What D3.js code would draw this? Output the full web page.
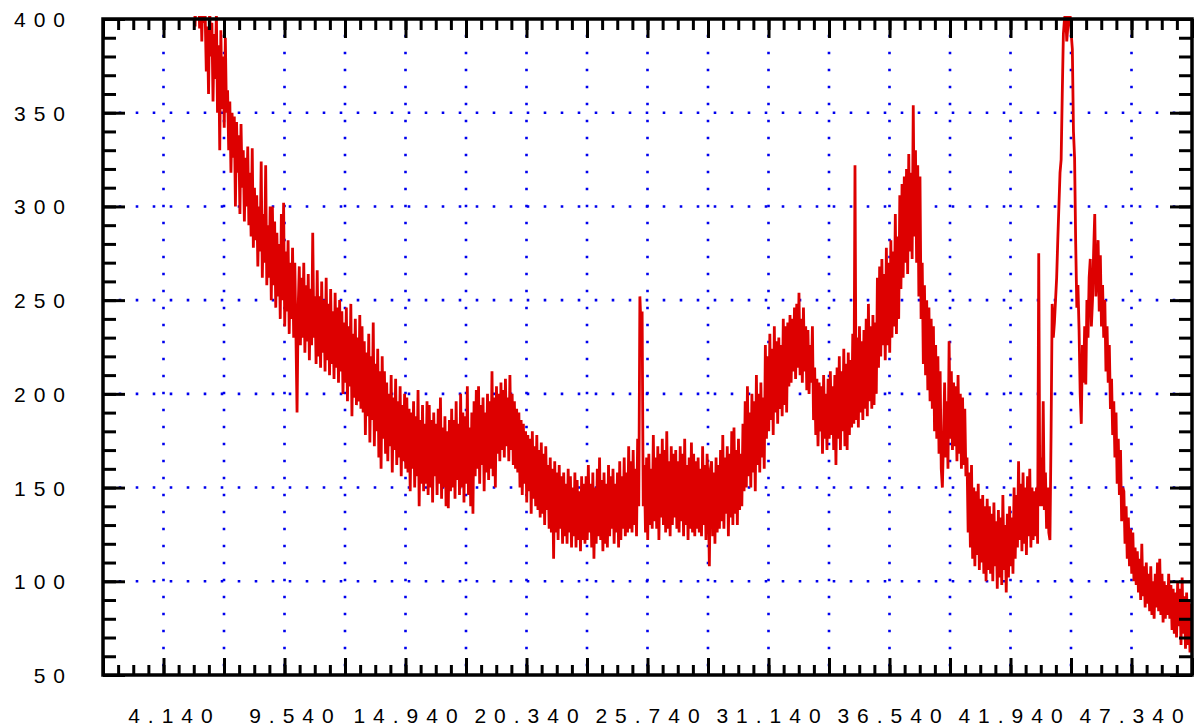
<!DOCTYPE html>
<html>
<head>
<meta charset="utf-8">
<script src="https://cdn.jsdelivr.net/npm/d3@7"></script>
<style>
  html, body { margin: 0; padding: 0; background: #fff; }
  svg { display: block; }
  .lbl { font-family: "Liberation Sans", Arial, sans-serif; font-size: 21px; fill: #000; letter-spacing: 8px; white-space: pre; }
</style>
</head>
<body>
<svg id="chart" width="1194" height="727"></svg>
<script>
// Scan settings (2-theta, degrees)
const twoThetaStart = 5.5;
const twoThetaStep = 0.05;

// Measured counts, one per scan step (one row per degree from 6 on)
const intensity = [
  430, 396, 418, 402, 425, 395, 415, 388, 420, 398,
  402, 372, 396, 360, 408, 380, 398, 356, 392, 368, 404, 350, 386, 330, 394, 352, 380, 342, 390, 350,
  362, 330, 356, 318, 350, 326, 348, 300, 345, 318, 338, 296, 344, 310, 330, 292, 326, 300, 332, 290,
  318, 284, 331, 278, 310, 282, 306, 268, 300, 276, 324, 262, 296, 270, 322, 258, 290, 262, 300, 250,
  300, 258, 292, 246, 286, 252, 280, 240, 296, 250, 302, 236, 276, 244, 282, 232, 270, 240, 278, 230,
  270, 232, 190, 246, 268, 226, 262, 230, 270, 222, 258, 228, 264, 218, 256, 226, 286, 230, 252, 216,
  266, 220, 252, 214, 260, 222, 250, 212, 262, 218, 248, 210, 256, 216, 244, 208, 254, 214, 246, 206,
  250, 212, 244, 200, 238, 206, 246, 196, 236, 204, 248, 188, 232, 198, 240, 194, 230, 196, 242, 192,
  236, 190, 228, 178, 222, 188, 232, 174, 220, 186, 238, 172, 216, 180, 224, 166, 212, 160, 220, 176,
  212, 168, 206, 164, 200, 172, 210, 158, 198, 170, 208, 162, 196, 166, 204, 156, 194, 164, 200, 160,
  198, 158, 192, 148, 190, 160, 196, 150, 188, 156, 202, 140, 186, 152, 194, 148, 184, 152, 196, 146,
  194, 150, 186, 142, 190, 156, 184, 146, 192, 152, 198, 144, 182, 150, 188, 140, 180, 139, 186, 148,
  192, 150, 186, 144, 196, 154, 184, 146, 200, 150, 190, 142, 188, 152, 204, 146, 182, 140, 190, 136,
  196, 156, 202, 160, 204, 152, 194, 162, 198, 148, 190, 158, 200, 154, 196, 160, 212, 156, 198, 150,
  204, 168, 200, 164, 206, 170, 202, 166, 208, 172, 198, 164, 210, 170, 200, 162, 196, 160, 192, 158,
  190, 150, 186, 146, 184, 152, 180, 142, 178, 148, 176, 136, 180, 144, 172, 140, 178, 138, 170, 134,
  174, 136, 168, 130, 172, 138, 162, 128, 166, 126, 160, 112, 164, 126, 158, 122, 162, 128, 156, 120,
  158, 124, 152, 120, 160, 126, 156, 118, 150, 124, 158, 118, 154, 122, 148, 116, 156, 122, 152, 120,
  156, 122, 162, 126, 152, 118, 158, 112, 150, 120, 160, 124, 166, 122, 154, 116, 158, 120, 152, 118,
  162, 124, 156, 128, 160, 120, 152, 126, 158, 118, 164, 122, 156, 128, 166, 124, 158, 126, 172, 128,
  164, 126, 170, 130, 160, 124, 176, 140, 252, 236, 244, 140, 162, 126, 166, 122, 168, 130, 160, 128,
  178, 132, 166, 128, 172, 122, 168, 134, 176, 130, 170, 126, 180, 128, 164, 124, 172, 130, 168, 134,
  170, 128, 164, 126, 172, 132, 168, 124, 176, 130, 162, 122, 166, 128, 174, 126, 168, 124, 164, 128,
  166, 126, 160, 124, 172, 130, 162, 122, 168, 150, 108, 160, 164, 124, 158, 120, 166, 126, 162, 128,
  170, 132, 178, 128, 166, 136, 172, 124, 168, 134, 180, 130, 182, 136, 170, 130, 176, 138, 168, 140,
  184, 148, 196, 150, 204, 156, 190, 150, 200, 158, 196, 148, 210, 162, 200, 158, 206, 166, 198, 160,
  226, 176, 220, 180, 232, 186, 224, 178, 236, 190, 228, 184, 230, 192, 226, 188, 240, 194, 236, 190,
  238, 204, 242, 206, 240, 212, 246, 208, 248, 214, 254, 210, 240, 206, 246, 212, 236, 202, 234, 200,
  226, 206, 236, 186, 214, 178, 208, 172, 206, 180, 204, 168, 210, 176, 200, 170, 208, 176, 212, 178,
  204, 170, 210, 162, 214, 176, 220, 170, 212, 180, 224, 172, 216, 170, 222, 178, 218, 182, 232, 184,
  322, 186, 230, 182, 236, 190, 228, 186, 234, 192, 240, 188, 248, 196, 236, 192, 242, 194, 238, 200,
  262, 214, 268, 220, 272, 226, 264, 218, 278, 226, 270, 222, 282, 230, 276, 236, 296, 232, 284, 240,
  306, 256, 312, 262, 316, 270, 320, 264, 328, 276, 318, 272, 354, 284, 330, 270, 322, 252, 316, 240,
  270, 216, 258, 210, 250, 202, 246, 196, 240, 192, 236, 180, 226, 176, 220, 168, 212, 160, 150, 176,
  206, 166, 196, 160, 228, 176, 212, 170, 206, 172, 204, 164, 210, 168, 200, 160, 198, 162, 192, 156,
  166, 126, 158, 118, 162, 112, 150, 108, 148, 114, 152, 106, 144, 110, 146, 104, 140, 100, 144, 106,
  140, 104, 136, 100, 142, 108, 132, 96, 138, 102, 134, 98, 146, 106, 130, 94, 136, 102, 140, 108,
  134, 104, 150, 112, 146, 118, 164, 122, 152, 116, 158, 120, 150, 114, 156, 124, 160, 118, 150, 122,
  148, 124, 150, 120, 275, 140, 166, 140, 196, 138, 158, 128, 150, 126, 122, 178, 248, 230, 238, 250,
  262, 282, 300, 318, 325, 360, 392, 400, 404, 388, 396, 410, 402, 392, 384, 340, 326, 280, 246, 258,
  234, 200, 184, 226, 206, 236, 205, 250, 230, 262, 272, 236, 250, 276, 296, 252, 264, 282, 244, 274,
  236, 258, 230, 250, 212, 236, 206, 226, 192, 208, 178, 196, 166, 190, 152, 176, 146, 170, 132, 150,
  148, 120, 140, 112, 134, 108, 128, 104, 126, 100, 118, 98, 116, 94, 112, 90, 120, 92, 108, 86,
  110, 88, 104, 84, 108, 82, 100, 80, 104, 86, 110, 84, 112, 82, 104, 78, 100, 80, 98, 82,
  104, 80, 98, 74, 96, 72, 94, 70, 100, 76, 96, 66, 102, 72, 92, 64, 94, 66, 90, 62,
  88
];

// Axis ranges and tick settings
const xDomain = [1.44, 50.04];
const yDomain = [50, 400];
const xMajorStep = 2.7;
const xMinorPerMajor = 4;
const xLabelTicks = ["4.140", "9.540", "14.940", "20.340", "25.740", "31.140", "36.540", "41.940", "47.340"];
const yLabelTicks = [50, 100, 150, 200, 250, 300, 350, 400];
const yMinorStep = 10;

const plot = { left: 103, right: 1192, top: 19, bottom: 675 };

const svg = d3.select("#chart");
const x = d3.scaleLinear().domain(xDomain).range([plot.left, plot.right]);
const y = d3.scaleLinear().domain(yDomain).range([plot.bottom, plot.top]);

// Tick positions
const nMinor = Math.round((xDomain[1] - xDomain[0]) / (xMajorStep / xMinorPerMajor));
const xMinor = d3.range(nMinor + 1).map(i => +(xDomain[0] + i * xMajorStep / xMinorPerMajor).toFixed(4));
const xMajor = xMinor.filter((d, i) => i % xMinorPerMajor === 0);
const yMinor = d3.range(yDomain[0], yDomain[1] + 0.001, yMinorStep);
const yMajor = yLabelTicks;

// Dotted grid
const gridColor = "#0000ee";
const dash = "2.6,14.4";
svg.append("g").selectAll("line")
  .data(yMajor.filter(v => v > yDomain[0] && v < yDomain[1]))
  .join("line")
  .attr("x1", plot.left).attr("x2", plot.right)
  .attr("y1", d => y(d)).attr("y2", d => y(d))
  .attr("stroke", gridColor).attr("stroke-width", 2.6)
  .attr("stroke-dasharray", dash).attr("stroke-dashoffset", 1.3);
svg.append("g").selectAll("line")
  .data(xMajor.filter(v => v > xDomain[0] + 0.01 && v < xDomain[1] - 0.01))
  .join("line")
  .attr("x1", d => x(d)).attr("x2", d => x(d))
  .attr("y1", plot.top).attr("y2", plot.bottom)
  .attr("stroke", gridColor).attr("stroke-width", 2.6)
  .attr("stroke-dasharray", dash).attr("stroke-dashoffset", 1.3);

// Data line
svg.append("defs").append("clipPath").attr("id", "plotClip")
  .append("rect")
  .attr("x", plot.left).attr("y", plot.top - 3)
  .attr("width", plot.right - plot.left).attr("height", plot.bottom - plot.top + 3);

const line = d3.line()
  .x((d, i) => x(twoThetaStart + i * twoThetaStep))
  .y(d => y(d));

svg.append("path")
  .datum(intensity)
  .attr("clip-path", "url(#plotClip)")
  .attr("d", line)
  .attr("fill", "none")
  .attr("stroke", "#dd0000")
  .attr("stroke-width", 2.8)
  .attr("stroke-linejoin", "miter")
  .attr("stroke-miterlimit", 2);

// Axes with inward ticks on all four sides
function styleAxis(g) {
  g.select(".domain").remove();
  g.selectAll(".tick line").attr("stroke", "#000").attr("stroke-width", 3);
}
const frame = svg.append("g");
frame.append("g").attr("transform", `translate(0,${plot.bottom})`)
  .call(d3.axisBottom(x).tickValues(xMinor).tickSize(-10).tickFormat("")).call(styleAxis);
frame.append("g").attr("transform", `translate(0,${plot.bottom})`)
  .call(d3.axisBottom(x).tickValues(xMajor).tickSize(-17).tickFormat("")).call(styleAxis);
frame.append("g").attr("transform", `translate(0,${plot.top})`)
  .call(d3.axisTop(x).tickValues(xMinor).tickSize(-11).tickFormat("")).call(styleAxis);
frame.append("g").attr("transform", `translate(0,${plot.top})`)
  .call(d3.axisTop(x).tickValues(xMajor).tickSize(-19).tickFormat("")).call(styleAxis);
frame.append("g").attr("transform", `translate(${plot.left},0)`)
  .call(d3.axisLeft(y).tickValues(yMinor).tickSize(-13).tickFormat("")).call(styleAxis);
frame.append("g").attr("transform", `translate(${plot.left},0)`)
  .call(d3.axisLeft(y).tickValues(yMajor).tickSize(-22).tickFormat("")).call(styleAxis);
frame.append("g").attr("transform", `translate(${plot.right},0)`)
  .call(d3.axisRight(y).tickValues(yMinor).tickSize(-13).tickFormat("")).call(styleAxis);
frame.append("g").attr("transform", `translate(${plot.right},0)`)
  .call(d3.axisRight(y).tickValues(yMajor).tickSize(-22).tickFormat("")).call(styleAxis);
frame.append("rect")
  .attr("x", plot.left).attr("y", plot.top)
  .attr("width", plot.right - plot.left).attr("height", plot.bottom - plot.top)
  .attr("fill", "none").attr("stroke", "#000").attr("stroke-width", 3.5);

// Tick labels
svg.append("g").selectAll("text")
  .data(yLabelTicks)
  .join("text")
  .attr("class", "lbl")
  .attr("x", 73)
  .attr("y", d => y(d) + 8)
  .attr("text-anchor", "end")
  .text(d => d);

svg.append("g").selectAll("text")
  .data(xLabelTicks)
  .join("text")
  .attr("class", "lbl")
  .attr("x", d => x(+d) + 4)
  .attr("y", 723)
  .attr("text-anchor", "middle")
  .text(d => d.padStart(6, " "));
</script>
</body>
</html>
